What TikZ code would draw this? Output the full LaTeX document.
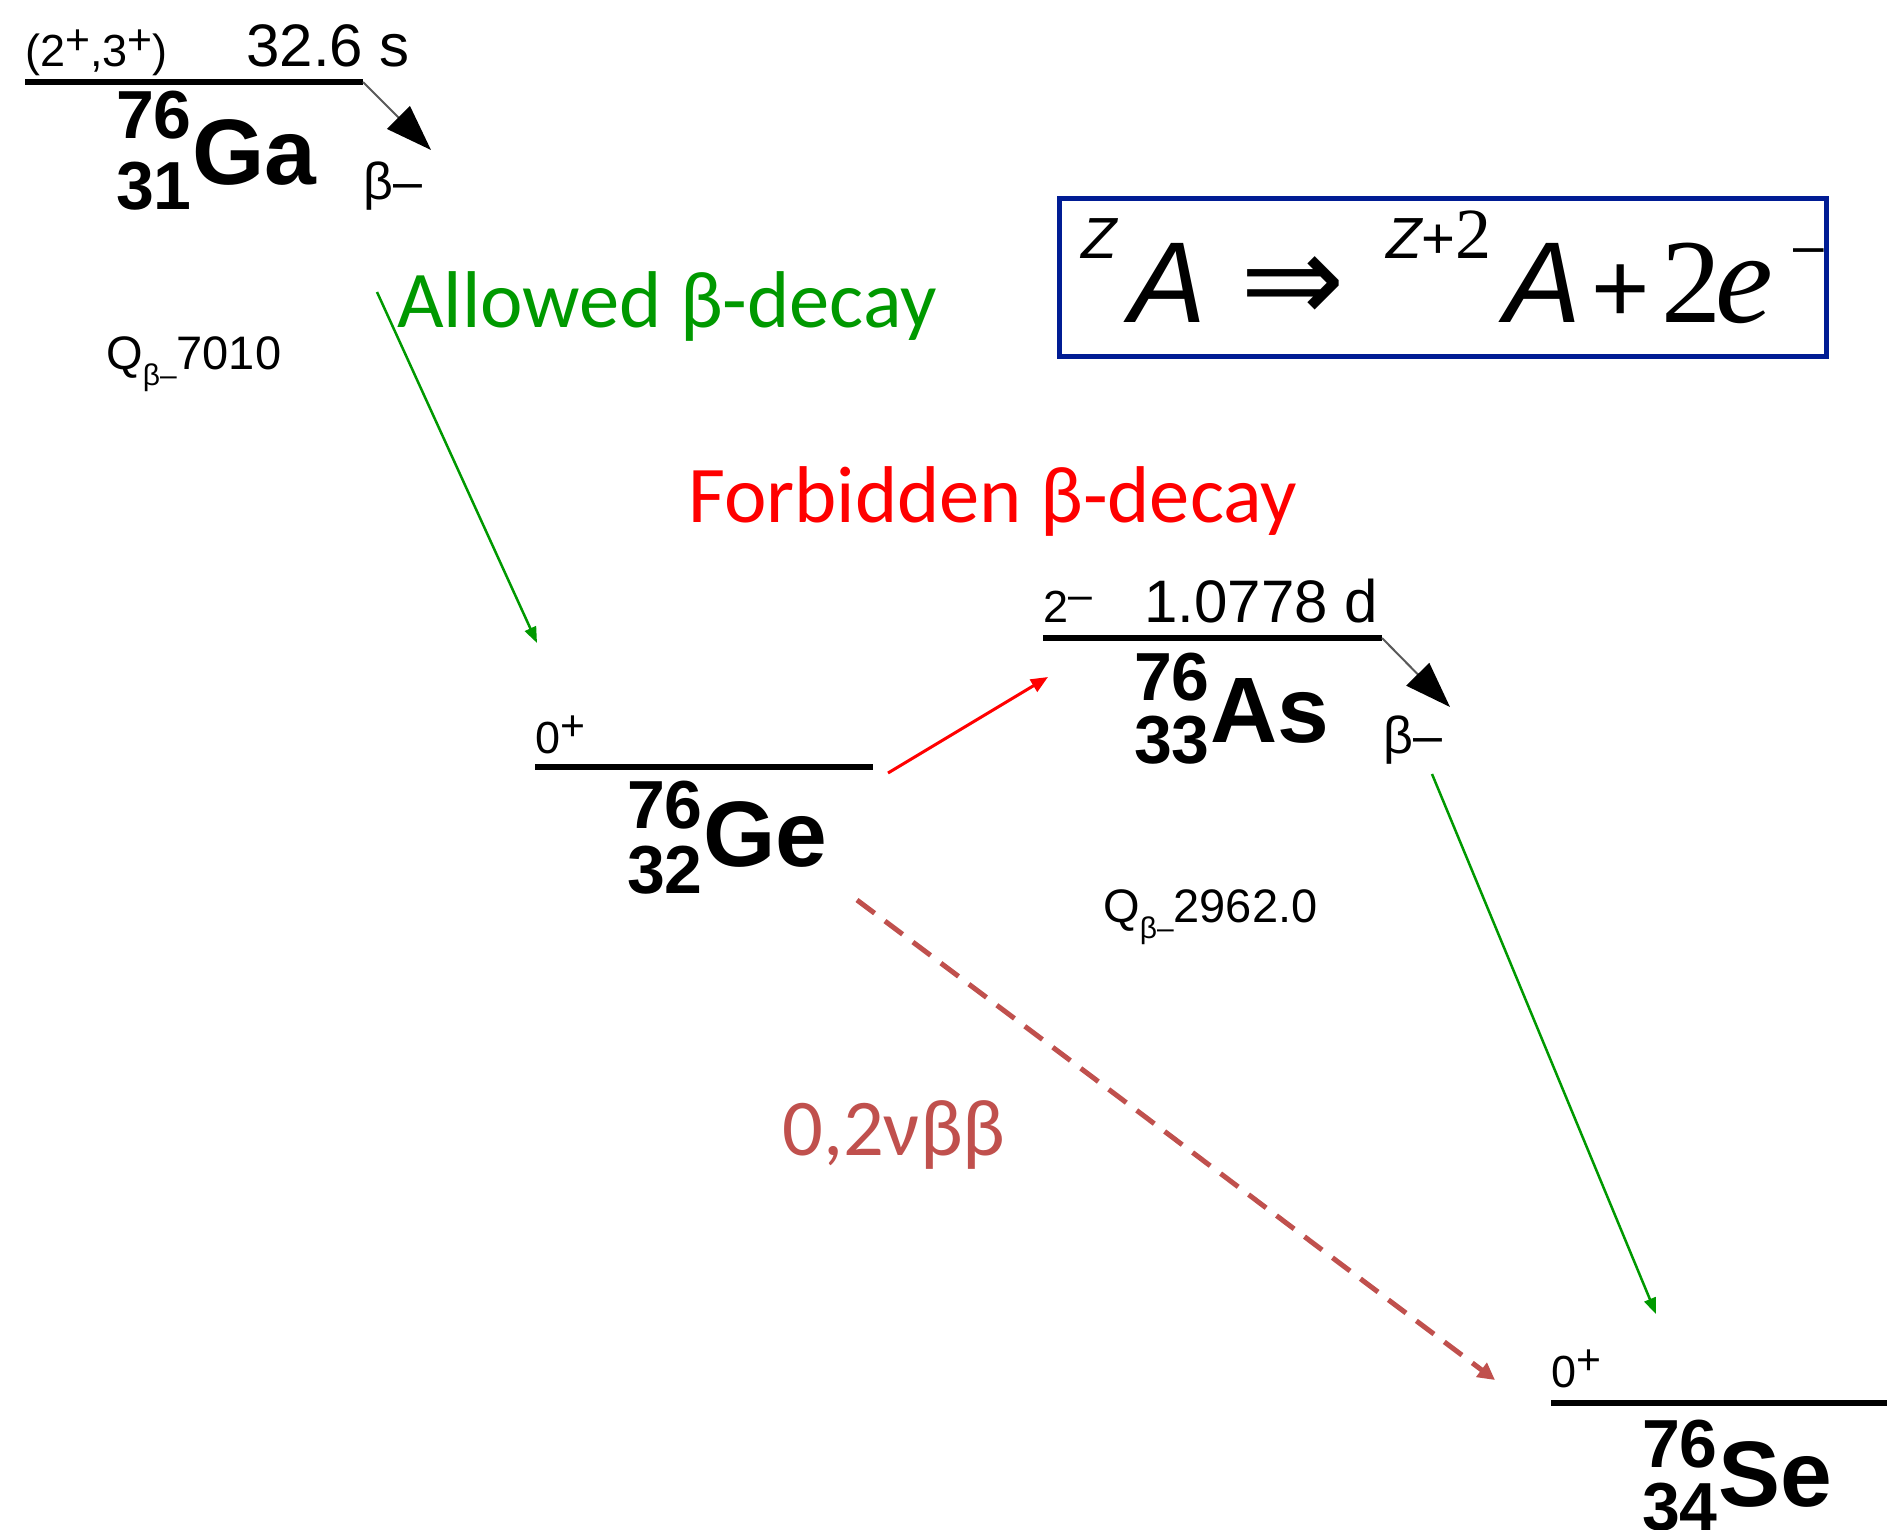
\documentclass[tikz,border=0pt]{standalone}
\usepackage{fontspec}
\setmainfont{Liberation Sans}
\newfontfamily\cali{Carlito}
\newfontfamily\tms{Liberation Serif}
\newfontfamily\djv{DejaVu Sans}
\usetikzlibrary{arrows.meta}
\newcommand\fz[1]{\fontsize{#1}{#1}\selectfont}
\newcommand\rsgn[1]{\raisebox{0.28em}{\scalebox{0.95}{#1}}}
\newcommand\qsub{\raisebox{-0.36em}{\fz{30}β–}}
\definecolor{boxblue}{RGB}{0,28,148}
\definecolor{okgreen}{RGB}{0,153,0}
\definecolor{forbred}{RGB}{255,0,0}
\definecolor{dblred}{RGB}{192,80,77}
\begin{document}
\begin{tikzpicture}[x=1pt,y=-1pt,
  lvl/.style={line width=5.5pt},
  numsty/.style={font=\fz{68}\bfseries, inner sep=0pt},
  symsty/.style={font=\fz{93}\bfseries, inner sep=0pt},
  spin/.style={font=\fz{45}, inner sep=0pt},
  half/.style={font=\fz{60}, inner sep=0pt},
  betalab/.style={font=\fz{52}, inner sep=0pt},
  qlab/.style={font=\fz{47}, inner sep=0pt},
  bigtxt/.style={font=\cali\fz{80.5}, inner sep=0pt},
  decayarr/.style={line width=2pt, draw=black!65, -{Triangle[length=46pt,width=32pt,color=black]}},
  greenarr/.style={line width=2.5pt, draw=okgreen, -{Triangle[length=16pt,width=12pt]}},
  redarr/.style={line width=3pt, draw=forbred, -{Triangle[length=17pt,width=14pt]}},
  dblarr/.style={line width=5pt, draw=dblred, dash pattern=on 22pt off 13pt, -{Triangle[length=17pt,width=17pt]}}
]
\useasboundingbox (0,0) rectangle (1887,1530);
\fill[white] (0,0) rectangle (1887,1530);

% ---------- 76Ga ----------
\coordinate (gaL) at (25,82);
\coordinate (gaR) at (363,82);
\coordinate (gaT) at (431,150);
\draw[lvl] (gaL) -- (gaR);
\draw[decayarr] (gaR) -- (gaT);
\node[spin, anchor=base west] (gaspin) at (25,67) {(2\rsgn{+},3\rsgn{+})};
\node[half, anchor=base east] (gahalf) at (410,67) {32.6 s};
\node[numsty, anchor=base east] (gaA) at (192,139) {76};
\node[numsty, anchor=base east] (gaZ) at (192,210) {31};
\node[symsty, anchor=base west] (gaS) at (192,185) {Ga};
\node[betalab, anchor=base west] (gabeta) at (363,200) {β–};
\node[qlab, anchor=base west] (gaQ) at (106,369) {Q\qsub7010};

% ---------- 76Ge ----------
\coordinate (geL) at (535,767);
\coordinate (geR) at (873,767);
\draw[lvl] (geL) -- (geR);
\node[spin, anchor=base west] (gespin) at (535,753) {0\rsgn{+}};
\node[numsty, anchor=base east] (geA) at (703,828) {76};
\node[numsty, anchor=base east] (geZ) at (703,893) {32};
\node[symsty, anchor=base west] (geS) at (703,866) {Ge};

% ---------- 76As ----------
\coordinate (asL) at (1043,638);
\coordinate (asR) at (1382,638);
\coordinate (asT) at (1450,707);
\draw[lvl] (asL) -- (asR);
\draw[decayarr] (asR) -- (asT);
\node[spin, anchor=base west] (asspin) at (1043,622) {2\rsgn{–}};
\node[half, anchor=base east] (ashalf) at (1378,622) {1.0778 d};
\node[numsty, anchor=base east] (asA) at (1210,700) {76};
\node[numsty, anchor=base east] (asZ) at (1210,763) {33};
\node[symsty, anchor=base west] (asS) at (1210,742) {As};
\node[betalab, anchor=base west] (asbeta) at (1383,753) {β–};
\node[qlab, anchor=base west] (asQ) at (1103,922) {Q\qsub2962.0};

% ---------- 76Se ----------
\coordinate (seL) at (1551,1403);
\coordinate (seR) at (1887,1403);
\draw[lvl] (seL) -- (seR);
\node[spin, anchor=base west] (sespin) at (1551,1387) {0\rsgn{+}};
\node[numsty, anchor=base east] (seA) at (1718,1467) {76};
\node[numsty, anchor=base east] (seZ) at (1718,1530) {34};
\node[symsty, anchor=base west] (seS) at (1718,1506) {Se};

% ---------- transitions ----------
\coordinate (g1s) at (377,292);
\coordinate (g1e) at (537,643);
\coordinate (g2s) at (1432,774);
\coordinate (g2e) at (1656,1314);
\coordinate (rs) at (888,773);
\coordinate (re) at (1048,677);
\coordinate (ds) at (857,900);
\coordinate (de) at (1495,1380);
\draw[greenarr] (g1s) -- (g1e);
\draw[greenarr] (g2s) -- (g2e);
\draw[redarr] (rs) -- (re);
\draw[dblarr] (ds) -- (de);

\node[bigtxt, text=okgreen, anchor=base west] (allowed) at (397,327) {Allowed β-decay};
\node[bigtxt, text=forbred, anchor=base west] (forbidden) at (688,522) {Forbidden β-decay};
\node[bigtxt, text=dblred, anchor=base west] (dbb) at (782,1155) {0,2νββ};

% ---------- formula box ----------
\node[draw=boxblue, line width=5pt, minimum width=767pt, minimum height=158pt, inner sep=0pt] (fbox) at (1443,277.5) {};
\node[anchor=base west, inner sep=0pt] (formula) at (1081,322) {%
\makebox[48pt][l]{\raisebox{63pt}{\fz{58}\itshape Z}}%
\makebox[111pt][l]{\fz{115}\itshape A}%
\makebox[146pt][l]{\djv\fz{125}⇒}%
\makebox[118pt][l]{\raisebox{63pt}{\fz{58}{\itshape Z}+{\tms\fz{72}2}}}%
\makebox[87pt][l]{\fz{115}\itshape A}%
\makebox[70pt][l]{\fz{100}+}%
\makebox[54pt][l]{\tms\fz{120}2}%
\makebox[78pt][l]{\tms\itshape\fz{130}e}%
\raisebox{58pt}{\fz{55}–}};
\end{tikzpicture}
\end{document}
